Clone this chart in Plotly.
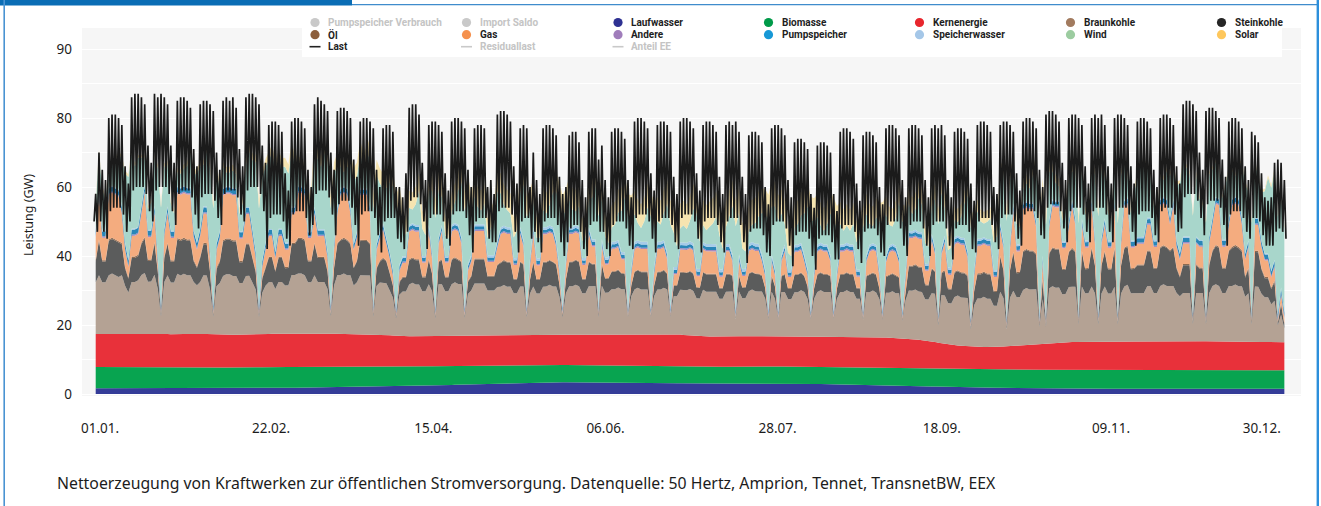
import plotly.graph_objects as go

# ---------------- data (GW) ----------------
# daily values, day 0 = 01.01. (Thu); rows = weeks Mon..Sun
wind = [
    8, 10, 12, 9,
    6, 6, 8, 10, 14, 20, 24,
    22, 18, 20, 14, 8, 6, 8,
    14, 24, 28, 18, 12, 8, 5,
    4, 4, 5, 6, 10, 16, 20,
    18, 12, 16, 24, 28, 22, 12,
    6, 4, 4, 5, 4, 5, 8,
    12, 16, 20, 26, 28, 24, 22,
    20, 22, 24, 20, 18, 22, 20,
    16, 12, 6, 5, 4, 6, 10,
    16, 20, 18, 22, 26, 28, 20,
    12, 6, 4, 6, 12, 18, 16,
    10, 6, 8, 16, 28, 20, 14,
    10, 14, 20, 24, 28, 18, 10,
    6, 5, 4, 6, 10, 8, 6,
    10, 18, 26, 14, 8, 6, 5,
    4, 6, 10, 16, 28, 20, 12,
    8, 5, 4, 6, 5, 8, 10,
    14, 10, 6, 5, 4, 6, 8,
    10, 16, 26, 14, 8, 6, 6,
    5, 4, 6, 10, 14, 18, 26,
    14, 8, 5, 4, 6, 5, 6,
    8, 12, 16, 26, 12, 6, 4,
    4, 5, 8, 12, 16, 26, 14,
    8, 5, 4, 6, 10, 26, 12,
    6, 5, 8, 14, 24, 10, 6,
    4, 5, 4, 6, 10, 16, 8,
    5, 4, 5, 6, 8, 10, 6,
    5, 8, 14, 24, 12, 6, 5,
    4, 5, 6, 8, 12, 16, 26,
    14, 18, 26, 12, 6, 5, 4,
    5, 6, 8, 12, 18, 26, 14,
    8, 5, 4, 6, 12, 26, 12,
    6, 4, 5, 4, 6, 8, 10,
    24, 12, 6, 5, 8, 14, 26,
    12, 6, 5, 8, 16, 26, 14,
    8, 5, 6, 10, 8, 6, 5,
    8, 14, 26, 16, 8, 5, 6,
    5, 4, 6, 10, 16, 26, 14,
    8, 5, 4, 5, 6, 8, 10,
    14, 20, 28, 18, 10, 6, 5,
    4, 5, 4, 8, 16, 26, 20,
    26, 14, 8, 5, 4, 6, 10,
    12, 8, 14, 26, 16, 8, 6,
    10, 18, 28, 20, 12, 8, 6,
    10, 26, 18, 10, 6, 8, 14,
    18, 22, 20, 16, 12, 10, 8,
    6, 5, 8, 12, 10, 16, 20,
    22, 20, 18, 28, 18, 12, 10,
    26, 18, 14, 10, 8, 12, 16,
    14, 8, 6, 10, 16, 20, 14,
    26, 16, 12, 14, 18, 22, 24,
    26, 28, 26, 24,
]

braunkohle = [
    15, 17, 15, 15,
    17, 17.5, 17, 16.5, 17, 14, 12,
    15, 15, 15.5, 17, 17.5, 15, 15,
    17, 13, 5, 15, 17, 15, 15,
    17.5, 17, 17.5, 17, 17, 15, 14,
    15, 17, 17, 13, 5, 14, 15,
    17, 17.5, 17.5, 17, 17, 15, 15,
    17, 17, 15, 13, 5, 12, 14,
    15, 15, 13, 15, 15, 14, 14,
    17, 17, 17.5, 17.5, 17, 15, 15,
    17, 15, 15, 15, 13, 5, 14,
    17, 17, 17.5, 17, 17, 14, 15,
    17, 17, 17, 17, 5, 14, 15,
    15, 15, 13, 11, 5, 12, 13,
    13, 15, 15.5, 15, 15, 13, 13,
    15, 13, 5, 15, 15, 13, 13,
    15, 15.5, 15, 15, 5, 12, 13,
    15, 15, 15, 15, 13, 13, 13,
    14, 14, 14.5, 14, 14, 12, 12,
    14, 14, 5, 12, 14, 12, 12,
    14, 14, 14.5, 14, 14, 11, 5,
    12, 14, 14, 14.5, 14, 12, 12,
    14, 14, 14, 5, 14, 12, 12,
    13, 13, 13.5, 13, 13, 5, 11,
    13, 13.5, 13, 13, 13, 5, 11,
    13, 13, 13.5, 13, 5, 11, 11,
    13, 13, 13, 13.5, 13, 11, 11,
    13.5, 13, 13, 13, 13, 11, 11,
    13, 13, 13, 5, 13, 11, 11,
    13, 13.5, 13, 13, 13, 11, 5,
    13, 11, 5, 13, 13, 11, 11,
    13, 13, 13.5, 13, 11, 5, 11,
    13, 13.5, 13, 13, 13, 5, 11,
    13, 13, 13.5, 13, 13, 11, 11,
    5, 13, 13, 13.5, 13, 11, 5,
    13, 13, 13.5, 13, 13, 5, 11,
    14, 14, 14.5, 14, 14, 12, 12,
    14, 14, 5, 14, 14, 12, 12,
    14, 14.5, 14, 14, 14, 5, 12,
    14, 14, 14.5, 14, 14, 12, 12,
    16, 14, 5, 14, 16, 14, 14,
    16, 16.5, 16, 16, 16, 5, 13,
    5, 16, 16.5, 16, 16, 14, 14,
    16, 16, 16, 5, 16, 14, 14,
    16, 14, 5, 14, 16, 14, 14,
    16, 5, 14, 16, 16.5, 14, 14,
    14, 14, 14, 16, 16, 14, 14,
    16, 16.5, 16, 16, 16, 14, 13,
    14, 14, 14, 5, 14, 14, 14,
    5, 14, 16, 16.5, 16, 14, 14,
    16, 16, 16.5, 16, 16, 13, 14,
    5, 16, 16, 14, 13, 13, 11,
    12, 5, 8, 4,
]

steinkohle = [
    6, 10, 6, 6,
    10, 10, 10, 10, 9, 5, 4,
    7, 7, 7, 9, 10, 6, 6,
    9, 5, 0.5, 7, 9, 6, 6,
    10, 10, 10, 10, 10, 6, 5,
    7, 9, 9, 5, 0.5, 5, 6,
    10, 10, 10, 10, 10, 6, 6,
    9, 9, 7, 5, 0.5, 4, 5,
    7, 7, 5, 7, 7, 5, 5,
    9, 9, 10, 10, 10, 6, 6,
    9, 7, 7, 7, 5, 0.5, 5,
    9, 10, 10, 10, 9, 5, 6,
    10, 10, 10, 9, 0.5, 5, 6,
    7, 6.3, 5, 3.5, 0.5, 3.5, 4,
    4, 7, 7, 7, 7, 4, 4,
    7, 5, 0.5, 6.3, 7, 4, 4,
    7, 7, 7, 6.3, 0.5, 3.5, 4,
    7, 7, 7, 7, 4, 4, 4,
    6.3, 7, 7, 7, 7, 4, 4,
    7, 6.3, 0.5, 4, 7, 4, 4,
    7, 7, 7, 7, 6.3, 3.5, 0.5,
    4, 7, 7, 7, 7, 4, 4,
    7, 6.3, 6.3, 0.5, 6.3, 4, 4,
    5, 5, 5, 4.5, 4.5, 0.3, 3,
    5, 5, 5, 5, 5, 0.3, 3,
    5, 5, 5, 4.5, 0.3, 3, 3,
    5, 5, 5, 5, 5, 3, 3,
    5, 5, 5, 5, 5, 3, 3,
    5, 5, 4.5, 0.3, 4.5, 3, 3,
    5, 5, 5, 5, 4.5, 3, 0.3,
    4.5, 3.5, 0.3, 4.5, 5, 3, 3,
    5, 5, 5, 4.5, 3.5, 0.3, 3,
    5, 5, 5, 5, 4.5, 0.3, 3,
    5, 5, 5, 5, 5, 3, 3,
    0.3, 4.5, 5, 5, 5, 3, 0.3,
    4.5, 5, 5, 5, 4.5, 0.3, 3,
    7, 7, 7, 7, 7, 4, 4,
    7, 6.3, 0.5, 6.3, 7, 4, 4,
    7, 7, 7, 7, 6.3, 0.5, 4,
    7, 7, 7, 7, 7, 4, 4,
    10, 8, 0.5, 8, 11, 7, 7,
    11, 11, 11, 11, 10, 0.5, 5.5,
    0.5, 10, 11, 11, 11, 7, 7,
    10, 11, 10, 0.5, 10, 7, 7,
    11, 8, 0.5, 8, 10, 7, 7,
    11, 0.5, 8, 11, 11, 7, 7,
    8, 8, 8, 10, 10, 7, 7,
    11, 11, 11, 10, 11, 7, 5.5,
    8, 8, 8, 0.5, 8, 7, 7,
    0.5, 8, 10, 11, 11, 7, 7,
    10, 11, 11, 11, 10, 5.5, 7,
    0.5, 10, 10, 7, 5.5, 5.5, 4.4,
    5.5, 0.5, 3, 1,
]

gas = [
    6.5, 13, 6.5, 6.5,
    13, 13, 13, 13, 8.5, 5, 3,
    6, 6, 6, 8.5, 13, 6.5, 6.5,
    8.5, 3.5, 0.5, 6, 8.5, 6.5, 6.5,
    13, 13, 13, 13, 13, 6.5, 5,
    6, 8.5, 8.5, 3.5, 0.5, 5, 6.5,
    13, 13, 13, 13, 13, 6.5, 6.5,
    8.5, 8.5, 6, 3.5, 0.5, 3, 5,
    6, 6, 3.5, 6, 6, 5, 5,
    8.5, 8.5, 13, 13, 13, 6.5, 6.5,
    8.5, 6, 6, 6, 3.5, 0.5, 5,
    8.5, 13, 13, 13, 8.5, 5, 6.5,
    13, 13, 13, 8.5, 0.5, 5, 6.5,
    8, 5, 4, 2.5, 0.5, 3, 4,
    4, 8, 8, 8, 8, 4, 4,
    8, 4, 0.5, 5, 8, 4, 4,
    8, 8, 8, 5, 0.5, 3, 4,
    8, 8, 8, 8, 4, 4, 4,
    5, 8, 8, 8, 8, 4, 4,
    8, 5, 0.5, 4, 8, 4, 4,
    8, 8, 8, 8, 5, 3, 0.5,
    4, 8, 8, 8, 8, 4, 4,
    8, 5, 5, 0.5, 5, 4, 4,
    6.5, 6.5, 6.5, 4, 4, 0.3, 3.2,
    6.5, 6.5, 6.5, 6.5, 6.5, 0.3, 3.2,
    6.5, 6.5, 6.5, 4, 0.3, 3.2, 3.2,
    6.5, 6.5, 6.5, 6.5, 6.5, 3.2, 3.2,
    6.5, 6.5, 6.5, 6.5, 6.5, 3.2, 3.2,
    6.5, 6.5, 4, 0.3, 4, 3.2, 3.2,
    6.5, 6.5, 6.5, 6.5, 4, 3.2, 0.3,
    4, 3, 0.3, 4, 6.5, 3.2, 3.2,
    6.5, 6.5, 6.5, 4, 3, 0.3, 3.2,
    6.5, 6.5, 6.5, 6.5, 4, 0.3, 3.2,
    6.5, 6.5, 6.5, 6.5, 6.5, 3.2, 3.2,
    0.3, 4, 6.5, 6.5, 6.5, 3.2, 0.3,
    4, 6.5, 6.5, 6.5, 4, 0.3, 3.2,
    8, 8, 8, 8, 8, 4, 4,
    8, 5, 0.5, 5, 8, 4, 4,
    8, 8, 8, 8, 5, 0.5, 4,
    8, 8, 8, 8, 8, 4, 4,
    7.5, 6, 0.5, 6, 12, 6, 6,
    12, 12, 12, 12, 7.5, 0.5, 4.8,
    0.5, 7.5, 12, 12, 12, 6, 6,
    7.5, 12, 7.5, 0.5, 7.5, 6, 6,
    12, 6, 0.5, 6, 7.5, 6, 6,
    12, 0.5, 6, 12, 12, 6, 6,
    6, 6, 6, 7.5, 7.5, 6, 6,
    12, 12, 12, 7.5, 12, 6, 4.8,
    6, 6, 6, 0.5, 6, 6, 6,
    0.5, 6, 7.5, 12, 12, 6, 6,
    7.5, 12, 12, 12, 7.5, 4.8, 6,
    0.5, 7.5, 7.5, 6, 4.8, 4.8, 3,
    4, 0.5, 2.5, 1.5,
]

# weekly values (52 weeks)
laufwasser = [1.7, 1.8, 1.8, 1.7, 1.7, 1.6, 1.6, 1.7, 1.8, 1.9, 1.9, 2.0, 2.1,
              2.2, 2.4, 2.6, 2.8, 3.0, 3.2, 3.3, 3.4, 3.3, 3.3, 3.2, 3.2, 3.1,
              3.1, 3.0, 3.0, 3.0, 2.9, 2.9, 2.8, 2.7, 2.6, 2.4, 2.2, 2.0, 1.9,
              1.8, 1.7, 1.6, 1.6, 1.5, 1.5, 1.5, 1.6, 1.6, 1.6, 1.6, 1.5, 1.5]
biomasse = [6.1, 6.0, 6.1, 6.0, 6.2, 6.1, 6.0, 6.1, 6.0, 5.9, 6.0, 5.9, 5.8,
            5.7, 5.6, 5.5, 5.4, 5.2, 5.1, 5.0, 5.0, 5.0, 4.9, 4.9, 5.0, 5.0,
            4.9, 4.9, 5.0, 5.0, 5.0, 5.0, 5.1, 5.1, 5.1, 5.2, 5.2, 5.2, 5.3,
            5.3, 5.4, 5.4, 5.4, 5.5, 5.4, 5.4, 5.5, 5.5, 5.4, 5.5, 5.5, 5.4]
kernenergie = [9.6, 9.6, 9.7, 9.6, 9.6, 9.5, 9.6, 9.6, 9.7, 9.6, 9.6, 9.5, 9.4,
               8.8, 8.8, 8.7, 8.8, 8.8, 8.9, 8.8, 8.8, 8.9, 9.2, 9.2, 9.1, 9.2,
               8.7, 8.7, 8.8, 8.7, 8.6, 8.7, 8.7, 8.8, 8.7, 8.5, 8.0, 7.0, 6.5,
               6.5, 7.0, 7.5, 8.0, 8.2, 8.2, 8.3, 8.2, 8.2, 8.3, 8.2, 8.2, 8.1]

# monthly values (mid-month)
month_day = [15, 45, 74, 105, 135, 166, 196, 227, 258, 288, 319, 349]
oel = [0.4, 0.4, 0.3, 0.3, 0.2, 0.2, 0.2, 0.2, 0.3, 0.3, 0.3, 0.4]
andere = [0.4, 0.4, 0.4, 0.4, 0.4, 0.4, 0.4, 0.4, 0.4, 0.4, 0.4, 0.4]
pumpspeicher = [1.4, 1.4, 1.2, 1.0, 0.9, 0.9, 0.9, 0.9, 1.0, 1.1, 1.2, 1.3]
speicherwasser = [0.3, 0.3, 0.4, 0.5, 0.7, 0.8, 0.8, 0.7, 0.6, 0.5, 0.4, 0.3]
solar = [0.8, 1.8, 3.5, 5.5, 6.0, 6.8, 7.5, 6.5, 4.2, 2.5, 1.2, 0.7]

# Last: daily midday peaks (365) and night troughs at 00:00 (366)
last_peak = [
    58, 70, 65, 62,
    80, 81, 81, 80, 78, 66, 61,
    86, 87, 87, 86, 84, 72, 67,
    87, 86, 87, 86, 84, 72, 67,
    85, 86, 86, 85, 83, 71, 66,
    84, 85, 85, 84, 82, 70, 65,
    85, 86, 85, 86, 83, 71, 66,
    86, 87, 87, 86, 84, 72, 67,
    78, 79, 79, 78, 76, 64, 59,
    79, 80, 80, 79, 77, 65, 60,
    84, 86, 85, 84, 82, 70, 65,
    82, 83, 83, 82, 80, 68, 63,
    79, 80, 80, 79, 77, 65, 60,
    77, 78, 78, 76, 60, 60, 57,
    64, 83, 84, 84, 81, 67, 62,
    78, 79, 79, 78, 76, 64, 59,
    79, 80, 80, 79, 77, 65, 60,
    77, 78, 78, 77, 60, 62, 58,
    81, 82, 82, 81, 79, 66, 61,
    77, 78, 77, 60, 70, 62, 58,
    77, 78, 78, 77, 75, 63, 58,
    60, 75, 76, 76, 73, 62, 57,
    76, 77, 77, 68, 72, 62, 57,
    76, 77, 77, 76, 74, 62, 57,
    79, 80, 80, 79, 77, 64, 59,
    78, 79, 79, 78, 76, 63, 58,
    79, 80, 80, 79, 77, 64, 59,
    78, 79, 79, 78, 76, 63, 58,
    78, 79, 78, 79, 76, 63, 58,
    75, 76, 76, 75, 73, 60, 55,
    77, 78, 78, 77, 75, 62, 57,
    73, 74, 74, 73, 71, 58, 54,
    72, 73, 73, 72, 70, 58, 53,
    76, 77, 77, 76, 74, 61, 56,
    75, 76, 76, 75, 73, 60, 55,
    77, 78, 78, 77, 75, 62, 57,
    77, 78, 78, 77, 75, 62, 57,
    77, 78, 77, 78, 75, 62, 57,
    76, 77, 77, 76, 74, 61, 56,
    78, 79, 79, 78, 76, 60, 58,
    78, 79, 79, 78, 76, 64, 59,
    79, 80, 80, 79, 77, 65, 60,
    81, 82, 82, 81, 79, 67, 62,
    80, 81, 81, 80, 78, 66, 61,
    80, 81, 80, 81, 78, 66, 61,
    80, 81, 81, 80, 78, 66, 61,
    79, 80, 80, 79, 77, 65, 60,
    80, 81, 81, 80, 78, 66, 61,
    84, 85, 85, 84, 82, 70, 65,
    82, 83, 83, 82, 80, 68, 63,
    79, 80, 80, 79, 77, 66, 62,
    76, 75, 73, 64, 57, 56, 57,
    67, 68, 67, 62,
]
last_night = [
    50, 47, 50, 47,
    45, 53, 54, 54, 54, 52, 47,
    50, 59, 60, 60, 60, 58, 53,
    50, 59, 60, 60, 60, 58, 53,
    49, 58, 59, 59, 59, 57, 52,
    48, 57, 58, 58, 58, 56, 51,
    49, 58, 59, 59, 59, 57, 52,
    50, 59, 60, 60, 60, 58, 53,
    42, 51, 52, 52, 52, 50, 45,
    43, 52, 53, 53, 53, 51, 46,
    49, 58, 59, 59, 59, 57, 52,
    46, 55, 56, 56, 56, 54, 49,
    43, 52, 53, 53, 53, 51, 46,
    41, 50, 51, 51, 51, 45, 44,
    42, 47, 56, 57, 57, 55, 50,
    42, 51, 52, 52, 52, 50, 45,
    43, 52, 53, 53, 53, 51, 46,
    41, 50, 51, 51, 51, 45, 44,
    44, 53, 54, 54, 54, 52, 47,
    41, 50, 51, 51, 45, 47, 44,
    41, 50, 51, 51, 51, 49, 44,
    40, 44, 48, 49, 49, 47, 42,
    40, 49, 50, 50, 47, 47, 42,
    40, 49, 50, 50, 50, 48, 43,
    42, 51, 52, 52, 52, 50, 45,
    41, 50, 51, 51, 51, 49, 44,
    42, 51, 52, 52, 52, 50, 45,
    41, 50, 51, 51, 51, 49, 44,
    41, 50, 51, 51, 51, 49, 44,
    38, 47, 48, 48, 48, 46, 41,
    40, 49, 50, 50, 50, 48, 43,
    37, 46, 47, 47, 47, 45, 40,
    36, 45, 46, 46, 46, 44, 39,
    39, 48, 49, 49, 49, 47, 42,
    38, 47, 48, 48, 48, 46, 41,
    40, 49, 50, 50, 50, 48, 43,
    40, 49, 50, 50, 50, 48, 43,
    40, 49, 50, 50, 50, 48, 43,
    39, 48, 49, 49, 49, 47, 42,
    41, 50, 51, 51, 51, 49, 44,
    42, 51, 52, 52, 52, 50, 45,
    43, 52, 53, 53, 53, 51, 46,
    45, 54, 55, 55, 55, 53, 48,
    44, 53, 54, 54, 54, 52, 47,
    44, 53, 54, 54, 54, 52, 47,
    44, 53, 54, 54, 54, 52, 47,
    43, 52, 53, 53, 53, 51, 46,
    44, 53, 54, 54, 54, 52, 47,
    48, 57, 58, 58, 58, 56, 51,
    46, 55, 56, 56, 56, 54, 49,
    43, 52, 53, 53, 53, 51, 47,
    45, 51, 51, 50, 46, 43, 43,
    43, 47, 48, 47,
    45,
]

x_tick_labels = ["01.01.", "22.02.", "15.04.", "06.06.", "28.07.", "18.09.", "09.11.", "30.12."]
y_tick_labels = ["0", "", "20", "", "40", "", "60", "", "80", "", "90"]

legend_rows = [
    ["Pumpspeicher Verbrauch", "Import Saldo", "Laufwasser", "Biomasse", "Kernenergie", "Braunkohle", "Steinkohle"],
    ["Öl", "Gas", "Andere", "Pumpspeicher", "Speicherwasser", "Wind", "Solar"],
    ["Last", "Residuallast", "Anteil EE"],
]
legend_colors = [
    ["#c9c9c9", "#c9c9c9", "#2e3192", "#009a49", "#e8262d", "#a27b5f", "#262626"],
    ["#8c5e3c", "#f5914d", "#a07dbb", "#1798d6", "#a5c7e8", "#9ccca0", "#fec75c"],
    ["#222222", "#c9c9c9", "#c9c9c9"],
]
legend_faded = [
    [True, True, False, False, False, False, False],
    [False] * 7,
    [False, True, True],
]
caption = ("Nettoerzeugung von Kraftwerken zur öffentlichen Stromversorgung. "
           "Datenquelle: 50 Hertz, Amprion, Tennet, TransnetBW, EEX")

# ---------------- layout geometry ----------------
W, H = 1321, 506
PL, PR, PT, PB = 82, 1301, 28, 396


def xp(px):
    return (px - PL) / (PR - PL)


def yp(py):
    return (PB - py) / (PB - PT)


xd = [d + 0.5 for d in range(365)]
xw = [7 * k + 3.5 for k in range(52)]

fig = go.Figure()
layers = [
    ("Laufwasser", xw, laufwasser, "#343c98"),
    ("Biomasse", xw, biomasse, "#08a450"),
    ("Kernenergie", xw, kernenergie, "#e8313a"),
    ("Braunkohle", xd, braunkohle, "#b4a294"),
    ("Steinkohle", xd, steinkohle, "#5b5c5c"),
    ("Öl", month_day, oel, "#8d6a50"),
    ("Gas", xd, gas, "#f4ac7f"),
    ("Andere", month_day, andere, "#a58bc0"),
    ("Pumpspeicher", month_day, pumpspeicher, "#2a86b8"),
    ("Speicherwasser", month_day, speicherwasser, "#a6cbe8"),
    ("Wind", xd, wind, "#a8d6cb"),
    ("Solar", month_day, solar, "#f6e4b0"),
]
for name, xs, ys, col in layers:
    fig.add_trace(go.Scatter(
        x=xs, y=ys, name=name, mode="lines", stackgroup="gen",
        stackgaps="interpolate", line=dict(width=0, color=col),
        fillcolor=col, showlegend=False, hoverinfo="skip"))

lx, ly = [], []
for i in range(365):
    lx += [i, i + 0.5]
    ly += [last_night[i], last_peak[i]]
lx.append(365)
ly.append(last_night[365])
fig.add_trace(go.Scatter(x=lx, y=ly, name="Last", mode="lines",
                         line=dict(color="#1b1b1b", width=1.7),
                         showlegend=False, hoverinfo="skip"))

shapes = []
annotations = []

# legend box
shapes.append(dict(type="rect", xref="paper", yref="paper", layer="below",
                   x0=xp(302), x1=xp(1282), y0=yp(57), y1=yp(8),
                   fillcolor="white", line=dict(width=0)))

col_x = [315, 466.5, 618, 768.5, 919.5, 1070.5, 1221.5]
row_y = [22.5, 34.7, 46.7]
for r, names in enumerate(legend_rows):
    for c, nm in enumerate(names):
        mx, my = col_x[c], row_y[r]
        colr = legend_colors[r][c]
        if r < 2:
            shapes.append(dict(type="circle", xref="paper", yref="paper",
                               x0=xp(mx - 4.6), x1=xp(mx + 4.6),
                               y0=yp(my + 4.6), y1=yp(my - 4.6),
                               fillcolor=colr, line=dict(width=0)))
        else:
            shapes.append(dict(type="line", xref="paper", yref="paper",
                               x0=xp(mx - 5.5), x1=xp(mx + 5.5),
                               y0=yp(my), y1=yp(my),
                               line=dict(color=colr, width=1.6)))
        annotations.append(dict(
            xref="paper", yref="paper", x=xp(mx + 11), y=yp(my),
            xanchor="left", yanchor="middle", showarrow=False, text="<b>%s</b>" % nm,
            font=dict(family="Roboto", size=10,
                      color="#c4c4c4" if legend_faded[r][c] else "#1e1e1e")))

# caption
annotations.append(dict(xref="paper", yref="paper", x=xp(55), y=yp(483),
                        xanchor="left", yanchor="middle", showarrow=False,
                        text=caption, font=dict(family="Noto Sans", size=15.8, color="#1c1c1c")))
# y-axis title
annotations.append(dict(xref="paper", yref="paper", x=xp(28), y=yp(215),
                        xanchor="center", yanchor="middle", showarrow=False,
                        textangle=-90, text="Leistung (GW)",
                        font=dict(family="Noto Sans", size=12.5, color="#1c1c1c")))

# blue frame
shapes += [
    dict(type="rect", xref="paper", yref="paper", x0=xp(0), x1=xp(352),
         y0=yp(5.5), y1=yp(-1), fillcolor="#0a6db5", line=dict(width=0)),
    dict(type="line", xref="paper", yref="paper", x0=xp(352), x1=xp(1319),
         y0=yp(4.6), y1=yp(4.6), line=dict(color="#3f8ccc", width=1.4)),
    dict(type="line", xref="paper", yref="paper", x0=xp(4.2), x1=xp(4.2),
         y0=yp(0), y1=yp(510), line=dict(color="#4a93d2", width=1.6)),
    dict(type="line", xref="paper", yref="paper", x0=xp(1317.8), x1=xp(1317.8),
         y0=yp(0), y1=yp(510), line=dict(color="#2d8fdb", width=2.4)),
]

fig.update_layout(
    width=W, height=H,
    margin=dict(l=PL, r=W - PR, t=PT, b=H - PB, pad=0),
    paper_bgcolor="white", plot_bgcolor="#f6f6f6",
    showlegend=False,
    shapes=shapes, annotations=annotations,
    font=dict(family="Noto Sans", color="#1c1c1c"),
    xaxis=dict(range=[-3.7, 369.6], showgrid=False, zeroline=False,
               tickmode="array",
               tickvals=[1.84, 54.2, 103.9, 156.6, 209.3, 259.6, 311.4, 357.6],
               ticktext=x_tick_labels, ticks="", ticklabelstandoff=22,
               tickfont=dict(family="Noto Sans", size=13.5, color="#1c1c1c"),
               fixedrange=True),
    yaxis=dict(range=[-0.58, 106.09], showgrid=True, gridcolor="#ffffff", gridwidth=1.2,
               zeroline=False, tickmode="array",
               tickvals=[0, 10, 20, 30, 40, 50, 60, 70, 80, 90, 100],
               ticktext=y_tick_labels, ticks="", ticklabelstandoff=9,
               tickfont=dict(family="Noto Sans", size=13.5, color="#1c1c1c"),
               fixedrange=True),
)

fig.write_html("out.html", config={"displayModeBar": False},
               post_script="document.body.style.margin='0px';")
